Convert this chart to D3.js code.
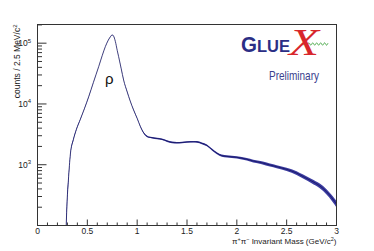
<!DOCTYPE html>
<html>
<head>
<meta charset="utf-8">
<script src="https://cdn.jsdelivr.net/npm/d3@7"></script>
<style>
  body { margin: 0; background: #fff; }
  svg { display: block; font-family: "Liberation Sans", Arial, sans-serif; }
</style>
</head>
<body>
<div id="chart"></div>
<script>
const W = 374, H = 251;
const margin = {top: 24.5, right: 37.5, bottom: 25.5, left: 37.5};

// pi+pi- invariant mass (GeV/c^2), counts per 2.5 MeV, and a rough error
const mass = [0.288, 0.297, 0.31, 0.33, 0.36, 0.39, 0.43, 0.47, 0.514, 0.56, 0.614, 0.65, 0.681, 0.71, 0.735, 0.748,
  0.762, 0.781, 0.8, 0.814, 0.84, 0.864, 0.9, 0.93, 0.964, 1.0, 1.031, 1.06, 1.09, 1.114, 1.15, 1.2, 1.248, 1.3,
  1.35, 1.398, 1.45, 1.5, 1.565, 1.6, 1.649, 1.7, 1.75, 1.8, 1.849, 1.9, 2.0, 2.1, 2.165, 2.25, 2.332, 2.4, 2.499,
  2.6, 2.665, 2.75, 2.832, 2.9, 2.95, 2.98, 3.0];
const counts = [100, 250, 560, 1500, 2600, 3800, 5600, 8300, 13200, 22400, 41200, 63000, 88000, 112000, 130000, 137000,
  132000, 107000, 76000, 60000, 38000, 24800, 15800, 11200, 7960, 5800, 4300, 3450, 3000, 2850, 2790, 2700, 2620, 2450,
  2330, 2300, 2320, 2370, 2390, 2380, 2250, 2080, 1780, 1550, 1410, 1370, 1325, 1230, 1150, 1080, 990, 930, 840,
  730, 640, 540, 450, 360, 290, 250, 225];
const relErr = [0.3, 0.2, 0.12, 0.06, 0.04, 0.03, 0.02, 0.015, 0.01, 0.008, 0.006, 0.005, 0.005, 0.005, 0.005, 0.005,
  0.005, 0.005, 0.005, 0.005, 0.006, 0.008, 0.01, 0.012, 0.014, 0.016, 0.018, 0.022, 0.025, 0.027, 0.028, 0.029, 0.03, 0.031,
  0.031, 0.031, 0.031, 0.031, 0.032, 0.032, 0.033, 0.035, 0.037, 0.04, 0.042, 0.043, 0.045, 0.048, 0.05, 0.053, 0.056, 0.059, 0.063,
  0.07, 0.075, 0.082, 0.09, 0.1, 0.108, 0.115, 0.12];

const xTicks = [0, 0.5, 1, 1.5, 2, 2.5, 3];
const yDecades = [100, 1000, 10000, 100000];
const yExp = [2, 3, 4, 5];

const x = d3.scaleLinear().domain([0, 3]).range([margin.left, W - margin.right]);
const y = d3.scaleLog().domain([100, 2.03e5]).range([H - margin.bottom, margin.top]);

const svg = d3.select("#chart").append("svg").attr("width", W).attr("height", H);

const data = mass.map((m, i) => ({m: m, c: counts[i], e: relErr[i]}));

svg.append("clipPath").attr("id", "clip").append("rect")
  .attr("x", margin.left).attr("y", margin.top)
  .attr("width", W - margin.left - margin.right).attr("height", H - margin.top - margin.bottom);

const g = svg.append("g").attr("clip-path", "url(#clip)");

// error band
g.append("path")
  .datum(data)
  .attr("fill", "#1a1a90")
  .attr("opacity", 0.85)
  .attr("d", d3.area()
    .curve(d3.curveMonotoneX)
    .x(d => x(d.m))
    .y0(d => y(Math.max(50, d.c * (1 - d.e))))
    .y1(d => y(d.c * (1 + d.e))));

g.append("path")
  .datum(data)
  .attr("fill", "none")
  .attr("stroke", "#14145e")
  .attr("stroke-width", 0.8)
  .attr("d", d3.line().curve(d3.curveMonotoneX).x(d => x(d.m)).y(d => y(d.c)));

// frame
svg.append("rect")
  .attr("x", margin.left).attr("y", margin.top)
  .attr("width", W - margin.left - margin.right).attr("height", H - margin.top - margin.bottom)
  .attr("fill", "none").attr("stroke", "#333").attr("stroke-width", 1);

// x ticks
const xMinor = d3.range(0, 3.001, 0.1);
svg.append("g").selectAll("line").data(xMinor).join("line")
  .attr("x1", d => x(d)).attr("x2", d => x(d))
  .attr("y1", H - margin.bottom)
  .attr("y2", (d, i) => H - margin.bottom - (i % 5 === 0 ? 6 : 3))
  .attr("stroke", "#333").attr("stroke-width", 1);

svg.append("g").selectAll("text").data(xTicks).join("text")
  .attr("x", d => x(d)).attr("y", 234)
  .attr("text-anchor", "middle")
  .attr("font-size", 8.5).attr("fill", "#222")
  .text(d => d);

// y ticks
const yMinor = [];
yDecades.forEach(dec => { for (let k = 1; k <= 9; k++) { if (dec * k <= 2.03e5) yMinor.push({v: dec * k, major: k === 1}); } });
svg.append("g").selectAll("line").data(yMinor).join("line")
  .attr("x1", margin.left).attr("x2", d => margin.left + (d.major ? 9 : 4.5))
  .attr("y1", d => y(d.v)).attr("y2", d => y(d.v))
  .attr("stroke", "#333").attr("stroke-width", 1);

const yl = svg.append("g").selectAll("text").data(yDecades.slice(1)).join("text")
  .attr("x", 31).attr("y", d => y(d) + 3)
  .attr("text-anchor", "end")
  .attr("font-size", 8.5).attr("fill", "#222");
yl.append("tspan").text("10");
yl.append("tspan").attr("dy", -3.5).attr("font-size", 6).text((d, i) => yExp[i + 1]);

// axis titles
svg.append("text")
  .attr("x", W - margin.right).attr("y", 244)
  .attr("text-anchor", "end").attr("font-size", 8).attr("fill", "#222")
  .html("π<tspan dy='-3' font-size='5.5'>+</tspan><tspan dy='3'>π</tspan><tspan dy='-3' font-size='5.5'>−</tspan><tspan dy='3'> Invariant Mass (GeV/c</tspan><tspan dy='-3' font-size='5.5'>2</tspan><tspan dy='3'>)</tspan>");

svg.append("text")
  .attr("transform", "translate(19.5," + margin.top + ") rotate(-90)")
  .attr("text-anchor", "end").attr("font-size", 8.5).attr("fill", "#222")
  .html("counts / 2.5 MeV/c<tspan dy='-3' font-size='6'>2</tspan>");

// rho label
svg.append("text")
  .attr("x", 105).attr("y", 84)
  .attr("font-size", 15).attr("fill", "#111")
  .text("ρ");

// GlueX logo
const logo = svg.append("g");
logo.append("text").attr("x", 241).attr("y", 52)
  .attr("font-size", 22).attr("font-weight", "bold").attr("fill", "#2b2e85")
  .attr("textLength", 16).attr("lengthAdjust", "spacingAndGlyphs").text("G");
logo.append("text").attr("x", 257).attr("y", 52)
  .attr("font-size", 16).attr("font-weight", "bold").attr("fill", "#2b2e85")
  .attr("textLength", 33).attr("lengthAdjust", "spacingAndGlyphs").text("LUE");
const wave = d3.range(0, 26.01, 0.5).map(t => [302 + t, 44 + 1.2 * Math.sin(t * 1.6)]);
logo.append("path").attr("d", d3.line()(wave))
  .attr("fill", "none").attr("stroke", "#4aa84a").attr("stroke-width", 0.9);
logo.append("text").attr("x", 289).attr("y", 55)
  .attr("font-size", 37).attr("font-style", "italic").attr("font-family", "Liberation Serif, serif")
  .attr("fill", "#d8262b")
  .attr("textLength", 30).attr("lengthAdjust", "spacingAndGlyphs").text("X");
logo.append("text").attr("x", 269).attr("y", 80)
  .attr("font-size", 13).attr("fill", "#3b3f8e")
  .attr("textLength", 50).attr("lengthAdjust", "spacingAndGlyphs").text("Preliminary");
</script>
</body>
</html>
